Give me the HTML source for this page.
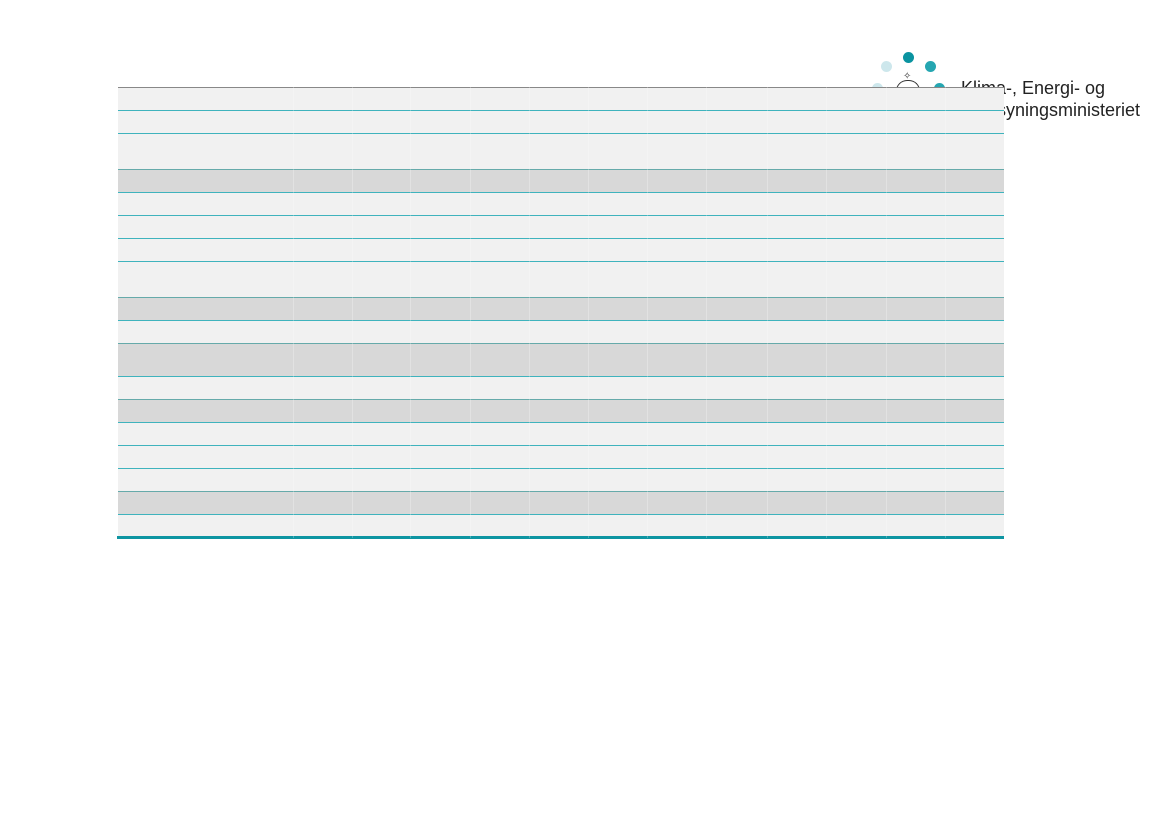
<!DOCTYPE html>
<html><head><style>
body{margin:0;width:1169px;height:827px;background:#fff;position:relative;overflow:hidden;font-family:"Liberation Sans",sans-serif}
.d{position:absolute;width:11px;height:11px;border-radius:50%}
.t{position:absolute;font-size:18px;color:#222;line-height:22px;white-space:nowrap}
.r{position:absolute;left:118px;width:886px;background:#f1f1f1;border-top:1px solid #3fb3bd}
.k{background:#d8d8d8;border-top-color:#6aa}
.c{position:absolute;top:87px;height:451px;width:1px;background:rgba(255,255,255,.25)}
</style></head><body>
<div class="d" style="left:903px;top:52px;background:#0a93a0"></div>
<div class="d" style="left:881px;top:61px;background:#cde7ec"></div>
<div class="d" style="left:925px;top:61px;background:#25a6b1"></div>
<div class="d" style="left:872px;top:83px;background:#cde7ec"></div>
<div class="d" style="left:934px;top:83px;background:#25a6b1"></div>
<div style="position:absolute;left:896px;top:80px;width:22px;height:10px;border:1px solid #333;border-bottom:none;border-radius:11px 11px 0 0"></div>
<div style="position:absolute;left:903px;top:71px;font-size:10px;color:#333">✧</div>
<div class="t" style="top:77px;left:961px">Klima-, Energi- og</div>
<div class="t" style="top:99px;right:29px;text-align:right">Forsyningsministeriet</div>
<div class="r" style="top:87px;height:22px;border-top-color:#888"></div>
<div class="r" style="top:110px;height:22px"></div>
<div class="r" style="top:133px;height:35px"></div>
<div class="r k" style="top:169px;height:22px"></div>
<div class="r" style="top:192px;height:22px"></div>
<div class="r" style="top:215px;height:22px"></div>
<div class="r" style="top:238px;height:22px"></div>
<div class="r" style="top:261px;height:35px"></div>
<div class="r k" style="top:297px;height:22px"></div>
<div class="r" style="top:320px;height:22px"></div>
<div class="r k" style="top:343px;height:32px"></div>
<div class="r" style="top:376px;height:22px"></div>
<div class="r k" style="top:399px;height:22px"></div>
<div class="r" style="top:422px;height:22px"></div>
<div class="r" style="top:445px;height:22px"></div>
<div class="r" style="top:468px;height:22px"></div>
<div class="r k" style="top:491px;height:22px"></div>
<div class="r" style="top:514px;height:22px"></div>
<div style="position:absolute;left:117px;top:536px;width:887px;height:3px;background:#0e95a2"></div>
<div class="c" style="left:293px"></div><div class="c" style="left:352px"></div><div class="c" style="left:410px"></div><div class="c" style="left:470px"></div><div class="c" style="left:529px"></div><div class="c" style="left:588px"></div><div class="c" style="left:647px"></div><div class="c" style="left:706px"></div><div class="c" style="left:767px"></div><div class="c" style="left:826px"></div><div class="c" style="left:886px"></div><div class="c" style="left:945px"></div>
</body></html>
